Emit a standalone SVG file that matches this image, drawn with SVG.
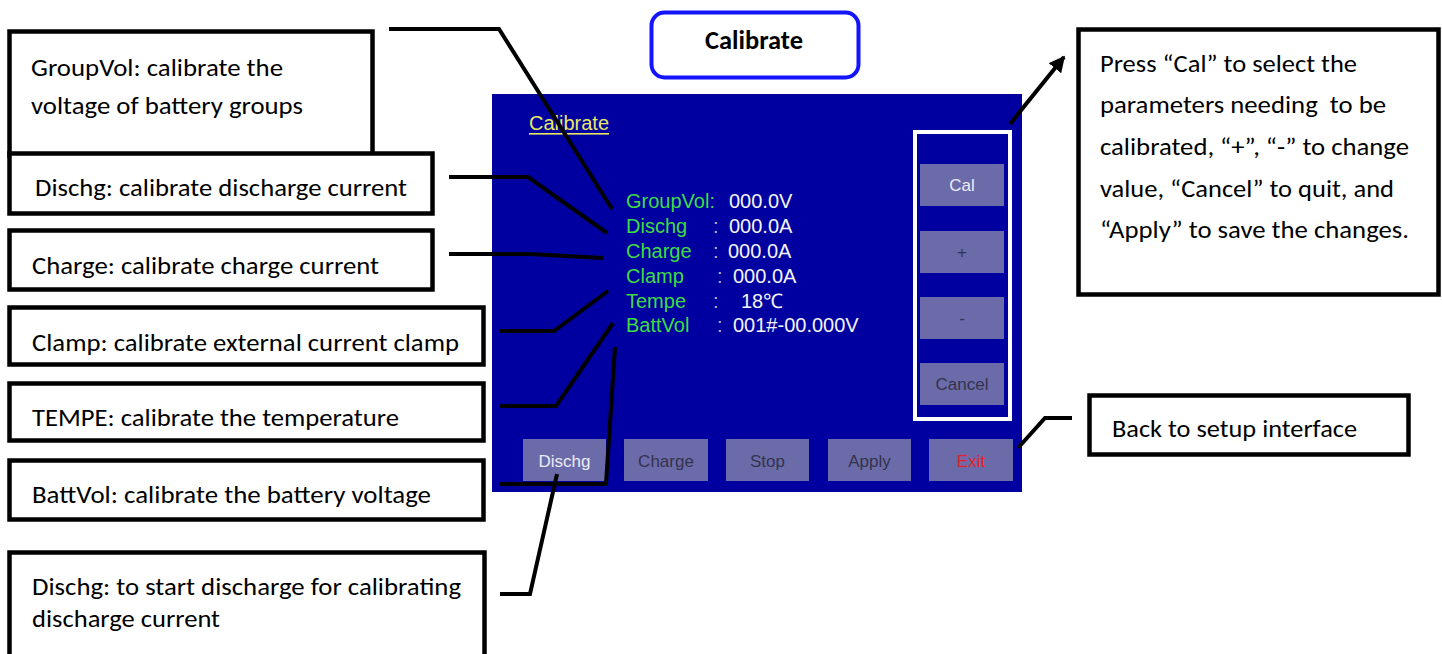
<svg xmlns="http://www.w3.org/2000/svg" width="1442" height="654" viewBox="0 0 1442 654">
<defs>
<style>
.box{fill:#fff;stroke:#000;stroke-width:4.5}
.t{font-family:Carlito,Lato,"Open Sans",sans-serif;font-size:25px;fill:#000}
.tb{font-family:Carlito,Lato,"Open Sans",sans-serif;font-size:26px;font-weight:bold;fill:#000}
.conn{fill:none;stroke:#000;stroke-width:4;stroke-linejoin:miter}
.scr{font-family:"Liberation Sans",Arial,sans-serif}
.lbl{font-size:20px;fill:#3ddc44}
.val{font-size:20px;fill:#f4f4f8}
.col{font-size:20px;fill:#b8b8d0}
.btn{fill:#6b6ba9}
.bt{font-size:17px;text-anchor:middle;fill:#33334d}
.bw{fill:#ececf4}
</style>
<marker id="ah" viewBox="0 0 10 10" refX="9" refY="5" markerWidth="4" markerHeight="4" orient="auto" markerUnits="strokeWidth">
<path d="M0,0 L10,5 L0,10 z" fill="#000"/>
</marker>
</defs>
<rect width="1442" height="654" fill="#fff"/>

<g id="screen">
<rect x="492" y="94" width="530" height="398" fill="#0000a0"/>
<text class="scr" x="529" y="130" font-size="20" fill="#e8e864">Calibrate</text>
<rect x="529" y="133" width="80" height="1.6" fill="#e8e864"/>
<text class="scr lbl" x="626" y="208">GroupVol:</text>
<text class="scr val" x="729" y="208">000.0V</text>
<text class="scr lbl" x="626" y="233">Dischg</text>
<text class="scr col" x="713" y="233">:</text>
<text class="scr val" x="729" y="233">000.0A</text>
<text class="scr lbl" x="626" y="258">Charge</text>
<text class="scr col" x="713" y="258">:</text>
<text class="scr val" x="728" y="258">000.0A</text>
<text class="scr lbl" x="626" y="283">Clamp</text>
<text class="scr col" x="717" y="283">:</text>
<text class="scr val" x="733" y="283">000.0A</text>
<text class="scr lbl" x="626" y="308">Tempe</text>
<text class="scr col" x="713" y="308">:</text>
<text class="scr val" x="741" y="308">18℃</text>
<text class="scr lbl" x="626" y="332">BattVol</text>
<text class="scr col" x="717" y="332">:</text>
<text class="scr val" x="733" y="332">001#-00.000V</text>
<rect x="915" y="132" width="95" height="287" fill="none" stroke="#fff" stroke-width="4"/>
<rect class="btn" x="920" y="164" width="84" height="42"/>
<text class="scr bt bw" x="962" y="191">Cal</text>
<rect class="btn" x="920" y="231" width="84" height="42"/>
<text class="scr bt" x="962" y="258">+</text>
<rect class="btn" x="920" y="297" width="84" height="42"/>
<text class="scr bt" x="962" y="324">-</text>
<rect class="btn" x="920" y="363" width="84" height="42"/>
<text class="scr bt" x="962" y="390">Cancel</text>
<rect class="btn" x="523" y="439" width="83" height="42"/>
<text class="scr bt bw" x="564.5" y="467">Dischg</text>
<rect class="btn" x="624" y="439" width="84" height="42"/>
<text class="scr bt" x="666" y="467">Charge</text>
<rect class="btn" x="726" y="439" width="83" height="42"/>
<text class="scr bt" x="767.5" y="467">Stop</text>
<rect class="btn" x="828" y="439" width="83" height="42"/>
<text class="scr bt" x="869.5" y="467">Apply</text>
<rect class="btn" x="929" y="439" width="84" height="42"/>
<text class="scr bt" x="971" y="467" fill="#e8202a" style="fill:#e8202a">Exit</text>
</g>

<g id="title">
<rect x="651.5" y="12.5" width="207" height="65" rx="13" fill="#fff" stroke="#1414ff" stroke-width="4"/>
<text class="tb" x="705" y="49" textLength="98" lengthAdjust="spacingAndGlyphs">Calibrate</text>
</g>

<g id="n-groupvol">
<rect class="box" x="9.5" y="31.5" width="363" height="124"/>
<text class="t" x="31" y="76" textLength="252" lengthAdjust="spacingAndGlyphs">GroupVol: calibrate the</text>
<text class="t" x="31" y="114" textLength="272" lengthAdjust="spacingAndGlyphs">voltage of battery groups</text>
</g>
<g id="n-dischg">
<rect class="box" x="9.5" y="153.5" width="423" height="60"/>
<text class="t" x="35" y="196" textLength="372" lengthAdjust="spacingAndGlyphs">Dischg: calibrate discharge current</text>
</g>
<g id="n-charge">
<rect class="box" x="9.5" y="230.5" width="423" height="59"/>
<text class="t" x="32" y="274" textLength="347" lengthAdjust="spacingAndGlyphs">Charge: calibrate charge current</text>
</g>
<g id="n-clamp">
<rect class="box" x="9.5" y="307.5" width="474" height="57"/>
<text class="t" x="32" y="351" textLength="427" lengthAdjust="spacingAndGlyphs">Clamp: calibrate external current clamp</text>
</g>
<g id="n-tempe">
<rect class="box" x="9.5" y="383.5" width="474" height="57"/>
<text class="t" x="32" y="426" textLength="367" lengthAdjust="spacingAndGlyphs">TEMPE: calibrate the temperature</text>
</g>
<g id="n-battvol">
<rect class="box" x="9.5" y="460.5" width="474" height="59"/>
<text class="t" x="32" y="503" textLength="399" lengthAdjust="spacingAndGlyphs">BattVol: calibrate the battery voltage</text>
</g>
<g id="n-dischg-btn">
<rect class="box" x="9.5" y="552.5" width="475" height="130"/>
<text class="t" x="32" y="595" textLength="429" lengthAdjust="spacingAndGlyphs">Dischg: to start discharge for calibrating</text>
<text class="t" x="32" y="627" textLength="188" lengthAdjust="spacingAndGlyphs">discharge current</text>
</g>
<g id="n-press">
<rect class="box" x="1078.5" y="29.5" width="360" height="265"/>
<text class="t" x="1100" y="72" textLength="257" lengthAdjust="spacingAndGlyphs">Press “Cal” to select the</text>
<text class="t" x="1100" y="113" textLength="286" lengthAdjust="spacingAndGlyphs" xml:space="preserve">parameters needing  to be</text>
<text class="t" x="1100" y="155" textLength="309" lengthAdjust="spacingAndGlyphs">calibrated, “+”, “-” to change</text>
<text class="t" x="1100" y="197" textLength="294" lengthAdjust="spacingAndGlyphs">value, “Cancel” to quit, and</text>
<text class="t" x="1100" y="238" textLength="309" lengthAdjust="spacingAndGlyphs">“Apply” to save the changes.</text>
</g>
<g id="n-back">
<rect class="box" x="1089.5" y="395.5" width="319" height="59"/>
<text class="t" x="1112" y="437" textLength="245" lengthAdjust="spacingAndGlyphs">Back to setup interface</text>
</g>

<g id="connectors">
<polyline class="conn" points="389,29 499,29 612,209"/>
<polyline class="conn" points="449,177 528,177 607,233"/>
<polyline class="conn" points="449,254 530,254 603,258"/>
<polyline class="conn" points="500,331 554,331 608,291"/>
<polyline class="conn" points="500,406 556,406 613,323"/>
<polyline class="conn" points="500,484 606,484 615,347"/>
<polyline class="conn" points="500,594 530,594 557,474"/>
<polyline class="conn" points="1018,448 1045,418 1072,418"/>
<line class="conn" x1="1010" y1="124" x2="1064" y2="57" stroke-width="3.5" marker-end="url(#ah)"/>
</g>
</svg>
